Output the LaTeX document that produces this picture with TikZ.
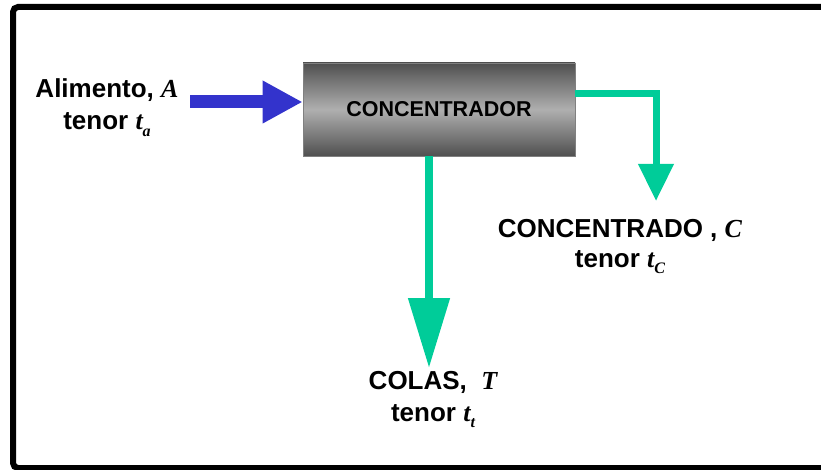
\documentclass[tikz,border=0pt]{standalone}
\usepackage{fontspec}
\setmainfont{Liberation Sans}
\newfontfamily\tms{Liberation Serif}
\usetikzlibrary{arrows.meta}
\definecolor{feedblue}{RGB}{51,51,204}
\definecolor{flowgreen}{RGB}{0,204,153}
\definecolor{boxdark}{RGB}{80,80,80}
\definecolor{boxlight}{RGB}{175,175,175}
\newcommand\vr[1]{{\tms\bfseries\itshape #1}}
\newcommand\subx[1]{\raisebox{-0.25em}{\fontsize{16}{16}\selectfont\tms\bfseries\itshape #1}}
\begin{document}
\begin{tikzpicture}[x=1pt,y=-1pt,
  lbl/.style={align=center,inner sep=0pt,font=\bfseries\fontsize{26}{32}\selectfont},
  concbox/.style={draw=gray,line width=0.8pt,minimum width=272pt,minimum height=93pt,inner sep=0pt,
    top color=boxdark,bottom color=boxdark,middle color=boxlight,
    font=\bfseries\fontsize{21.5}{24}\selectfont},
  feed/.style={draw=feedblue,line width=13pt,-{Triangle[length=40pt,width=40pt]}},
  flow/.style={draw=flowgreen,line join=miter}]
\useasboundingbox (0,0) rectangle (821,470);
\draw[line width=6pt,rounded corners=5pt] (830,7) -- (13,7) -- (13,468) -- (830,468);
\node[concbox] (conc) at (439,109.5) {CONCENTRADOR};
% feed
\coordinate (ain) at (190,102);
\draw[feed] (ain) -- (ain -| conc.west);
% concentrate
\coordinate (h94) at (0,94);
\coordinate (cturn) at (656,94);
\coordinate (ctip) at (656,201);
\draw[flow,line width=7pt,-{Triangle[length=37pt,width=34pt]}] (conc.east |- h94) -- (cturn) -- (ctip);
% tails
\coordinate (tx) at (429,0);
\coordinate (ttip) at (429,368);
\draw[flow,line width=8pt,-{Triangle[length=70pt,width=40pt]}] (conc.south -| tx) -- (ttip);
% labels
\node[lbl] (alim) at (107,107.5) {Alimento, \vr{A}\\tenor \vr{t}\subx{a}};
\node[lbl,font=\bfseries\fontsize{26}{30}\selectfont] (concd) at (620,246.5) {CONCENTRADO , \vr{C}\\tenor \vr{t}\subx{C}};
\node[lbl] (colas) at (433,399.5) {COLAS,\ \ \vr{T}\\tenor \vr{t}\subx{t}};
\end{tikzpicture}
\end{document}
